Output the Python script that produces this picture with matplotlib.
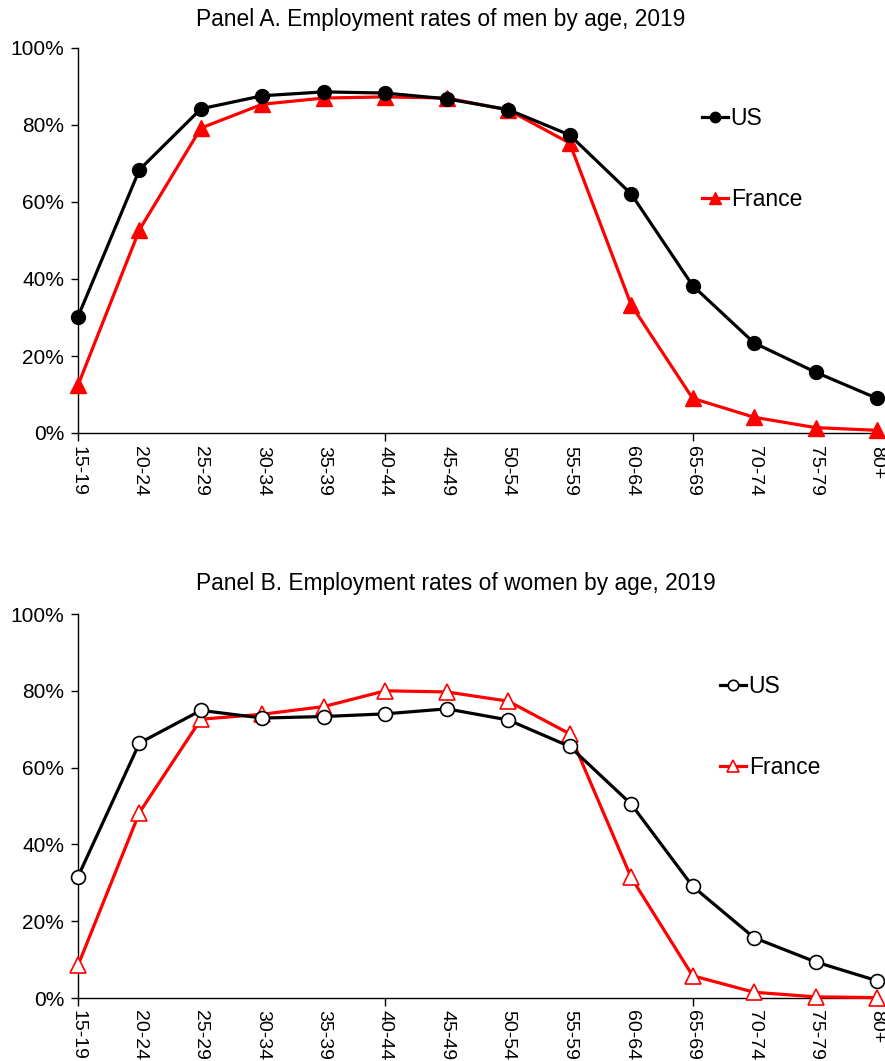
import matplotlib
matplotlib.use("Agg")
import matplotlib.pyplot as plt
from matplotlib.ticker import FuncFormatter, FixedLocator

plt.rcParams['font.family'] = ['Liberation Sans', 'DejaVu Sans']

age_groups = ["15-19", "20-24", "25-29", "30-34", "35-39", "40-44", "45-49",
              "50-54", "55-59", "60-64", "65-69", "70-74", "75-79", "80+"]

men_us = [30.2, 68.4, 84.2, 87.6, 88.6, 88.3, 86.8, 84.0, 77.4, 62.1, 38.3, 23.4, 15.8, 9.0]
men_france = [12.4, 52.8, 79.2, 85.4, 87.0, 87.3, 87.0, 83.9, 75.3, 33.3, 9.0, 4.1, 1.4, 0.7]

women_us = [31.6, 66.4, 74.9, 72.9, 73.3, 74.0, 75.3, 72.4, 65.5, 50.5, 29.1, 15.7, 9.4, 4.5]
women_france = [8.5, 48.3, 72.6, 73.9, 75.9, 80.0, 79.7, 77.3, 68.8, 31.4, 5.8, 1.5, 0.3, 0.1]

titles = ["Panel A. Employment rates of men by age, 2019",
          "Panel B. Employment rates of women by age, 2019"]

W, H = 885, 1061
fig = plt.figure(figsize=(W / 100, H / 100), dpi=100)
axA = fig.add_axes([78 / W, 1 - 433 / H, 799 / W, 385 / H])
axB = fig.add_axes([78 / W, 1 - 998 / H, 799 / W, 384 / H])

x = list(range(len(age_groups)))

def style(ax):
    ax.set_xlim(0, len(age_groups) - 1)
    ax.set_ylim(0, 100)
    for s in ["top", "right"]:
        ax.spines[s].set_visible(False)
    ax.spines["left"].set_linewidth(1.0)
    ax.spines["bottom"].set_linewidth(1.0)
    ax.set_yticks([0, 20, 40, 60, 80, 100])
    ax.yaxis.set_major_formatter(FuncFormatter(lambda v, p: f"{int(v)}%"))
    ax.tick_params(axis="y", direction="out", length=5, width=1, labelsize=15, pad=5)
    ax.xaxis.remove_overlapping_locs = False
    ax.xaxis.set_major_locator(FixedLocator(x))
    ax.set_xticklabels(age_groups, rotation=-90, fontsize=14)
    ax.tick_params(axis="x", which="major", length=0, pad=9)
    ax.xaxis.set_minor_locator(FixedLocator([0, 5, 10]))
    ax.tick_params(axis="x", which="minor", direction="out", length=6, width=1)

leg_kw = dict(loc="upper left", frameon=False, fontsize=16.5, handlelength=1.15,
              handletextpad=0.1, labelspacing=2.55, borderaxespad=0, borderpad=0,
              markerscale=0.75)

# Panel A
axA.plot(x, men_us, color="black", lw=2.3, marker="o", ms=10, clip_on=False, zorder=4, label="US")
axA.plot(x, men_france, color="#ff0000", lw=2.3, marker="^", ms=11, clip_on=False, zorder=3, label="France")
style(axA)
axA.legend(bbox_to_anchor=((702 - 78) / 799, (433 - 107) / 385), **leg_kw)
fig.text(196 / W, 1 - 26 / H, titles[0], fontsize=16.4, ha="left", va="baseline")

# Panel B
axB.plot(x, women_us, color="black", lw=2.3, marker="o", ms=10, mfc="white", mec="black",
         mew=1.2, clip_on=False, zorder=4, label="US")
axB.plot(x, women_france, color="#ff0000", lw=2.3, marker="^", ms=11, mfc="white", mec="#ff0000",
         mew=1.2, clip_on=False, zorder=3, label="France")
style(axB)
axB.legend(bbox_to_anchor=((720 - 78) / 799, (998 - 675) / 384), **leg_kw)
fig.text(196 / W, 1 - 590 / H, titles[1], fontsize=16.4, ha="left", va="baseline")

fig.savefig("out.png", dpi=100)
